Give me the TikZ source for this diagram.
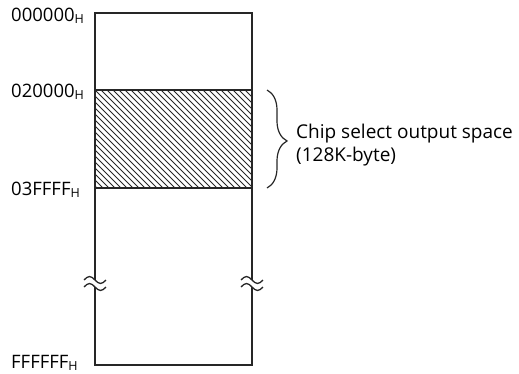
\documentclass[tikz,border=0pt]{standalone}
\usepackage{fontspec}
\setmainfont{Open Sans}
\usetikzlibrary{decorations.pathreplacing}
\newcommand{\subH}{\raisebox{-0.3ex}{\fontsize{12.5}{12.5}\selectfont H}}
\tikzset{
  addr/.style={anchor=base west, inner sep=0pt, font=\fontsize{18.5}{20}\selectfont},
  frame/.style={line width=1.2pt, draw=black!85},
  hatch/.style={line width=0.75pt, draw=black!85},
  tildemark/.style={line width=1.3pt, draw=black!85},
  bracestyle/.style={decorate, decoration={brace, amplitude=20pt, aspect=0.52}, line width=1.2pt, draw=black!85},
  note/.style={anchor=base west, inner sep=0pt, font=\fontsize{19}{23}\selectfont}
}
\begin{document}
\begin{tikzpicture}[x=1pt, y=-1pt]
\useasboundingbox (0,0) rectangle (519,373);
% corner coordinates
\coordinate (tl) at (95,13);
\coordinate (tr) at (252,13);
\coordinate (ml1) at (95,90);
\coordinate (mr1) at (252,90);
\coordinate (ml2) at (95,188);
\coordinate (mr2) at (252,188);
\coordinate (bl) at (95,365);
\coordinate (br) at (252,365);
\coordinate (lb1) at (95,280);
\coordinate (lb2) at (95,287);
\coordinate (rb1) at (252,280);
\coordinate (rb2) at (252,287);
% hatching
\begin{scope}
\clip (ml1) rectangle (mr2);
\foreach \i in {-102,-96,...,160}{
  \draw[hatch] (95+\i,90) -- ++(98,98);
}
\end{scope}
% frame
\draw[frame] (lb1) -- (tl) -- (tr) -- (rb1);
\draw[frame] (lb2) -- (bl) -- (br) -- (rb2);
\draw[frame] (ml1) -- (mr1);
\draw[frame] (ml2) -- (mr2);
% break marks
\foreach \x in {95,252}{
  \draw[tildemark] (\x-11,280) sin (\x-5.5,276.5) cos (\x,280) sin (\x+5.5,283.5) cos (\x+11,280);
  \draw[tildemark] (\x-11,287) sin (\x-5.5,283.5) cos (\x,287) sin (\x+5.5,290.5) cos (\x+11,287);
}
% address labels
\node[addr] (a0) at (11,21) {000000\subH};
\node[addr] (a1) at (11,97) {020000\subH};
\node[addr] (a2) at (11,195) {03FFFF\subH};
\node[addr] (a3) at (11,368) {FFFFFF\subH};
% brace
\coordinate (bt) at (267,90);
\coordinate (bb) at (267,188);
\draw[bracestyle] (bt) -- (bb);
\node[note] (cs1) at (296,138) {Chip select output space};
\node[note] (cs2) at (296,161) {(128K-byte)};
\end{tikzpicture}
\end{document}
